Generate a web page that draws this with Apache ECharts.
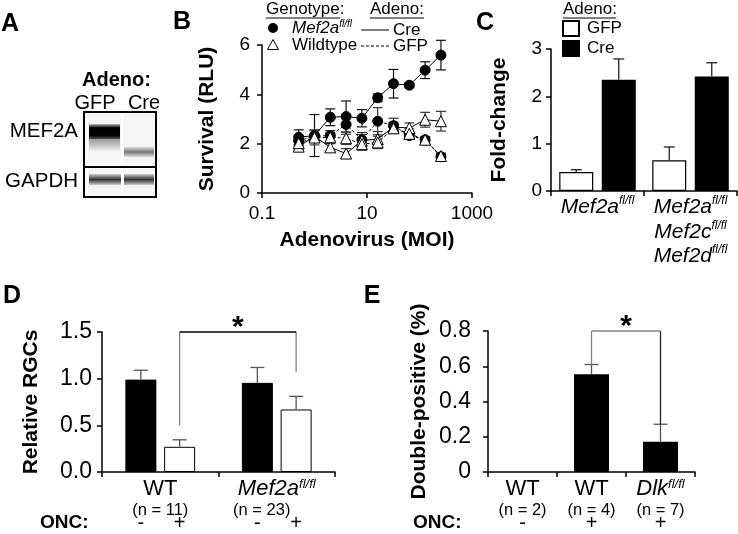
<!DOCTYPE html>
<html><head><meta charset="utf-8">
<script src="https://cdn.jsdelivr.net/npm/echarts@6/dist/echarts.min.js"></script>
<style>html,body{margin:0;padding:0;background:#fff}#c{width:738px;height:534px}</style>
</head><body><div id="c"></div>
<script>
// ---------- Panel B : survival vs adenovirus MOI ----------
const moi = [0.5, 1, 2, 4, 8, 16, 32, 64, 128, 256];
const mef2aCre    = [2.26, 2.33, 3.07, 3.10, 3.03, 3.86, 4.43, 4.37, 4.98, 5.59];
const mef2aCreErr = [0.30, 0.85, 0.34, 0.63, 0.35, 0.16, 0.58, 0.10, 0.34, 0.60];
const mef2aGfp    = [2.12, 2.30, 2.33, 2.78, 2.15, 2.91, 2.73, 2.33, 2.16, 1.47];
const mef2aGfpErr = [0.20, 0.25, 0.20, 0.40, 0.30, 0.55, 0.30, 0.15, 0.12, 0.12];
const wtCre       = [1.88, 2.30, 1.85, 1.60, 2.12, 2.19, 2.67, 2.64, 2.97, 2.91];
const wtCreErr    = [0.20, 0.25, 0.15, 0.20, 0.25, 0.30, 0.20, 0.20, 0.30, 0.40];
const wtGfp       = [2.02, 2.25, 2.26, 2.22, 1.98, 2.05, 2.62, 2.40, 2.16, 1.50];
const wtGfpErr    = [0.25, 0.30, 0.20, 0.25, 0.25, 0.25, 0.20, 0.20, 0.12, 0.12];
const bTickExponents = [-1, 3];   // axis from 10^-1 to 10^3

// ---------- Panel C : fold-change ----------
const cCategories = ['Mef2a^fl/fl', 'Mef2a^fl/fl\nMef2c^fl/fl\nMef2d^fl/fl'];
const cGfp    = [0.40, 0.65];
const cGfpErr = [0.05, 0.28];
const cCre    = [2.35, 2.42];
const cCreErr = [0.44, 0.29];

// ---------- Panel D : relative RGCs ----------
const dCategories = ['WT\n(n = 11)', 'Mef2a^fl/fl\n(n = 23)'];
const dSham    = [0.99, 0.955];
const dShamErr = [0.10, 0.165];
const dOnc     = [0.27, 0.67];
const dOncErr  = [0.075, 0.14];
const dBracketLevels = [0.5, 1.075, 1.5];   // left foot, right foot, top

// ---------- Panel E : double-positive ----------
const eCategories = ['WT\n(n = 2)', 'WT\n(n = 4)', 'Dlk^fl/fl\n(n = 7)'];
const eValues = [0, 0.554, 0.171];
const eErr    = [0, 0.056, 0.10];
const eOnc    = ['-', '+', '+'];
const eBracketLevels = [0.61, 0.27, 0.8];

const FONT = '"Liberation Sans", Arial, Helvetica, sans-serif';
const AX = {color: '#000', width: 1.5};

function toRich(str, mainKey, nKey) {
  return str.split('\n').map(function (line) {
    if (line.charAt(0) === '(') return '{' + (nKey || 'n') + '|' + line + '}';
    const p = line.split('^');
    return p.length > 1 ? '{i|' + p[0] + '}{s|' + p[1] + '}' : '{' + mainKey + '|' + line + '}';
  }).join('\n');
}

function yAxis(grid, min, max, interval, fs, margin, name, nameGap, fmt) {
  return {
    gridIndex: grid, type: 'value', min: min, max: max, interval: interval,
    axisLine: {show: true, onZero: false, lineStyle: AX},
    axisTick: {show: true, length: 5, inside: false, lineStyle: AX},
    axisLabel: {fontSize: fs, color: '#000', margin: margin, fontFamily: FONT, formatter: fmt},
    splitLine: {show: false},
    name: name, nameLocation: 'middle', nameGap: nameGap, nameRotate: 90, nameMoveOverlap: false,
    nameTextStyle: {fontSize: 21, fontWeight: 'bold', color: '#000', fontFamily: FONT}
  };
}

function catAxis(grid, data, rich, margin, shiftN) {
  return {
    gridIndex: grid, type: 'category', data: data,
    axisLine: {show: true, onZero: false, lineStyle: AX},
    axisTick: {show: true, length: 5, alignWithLabel: false, inside: false, lineStyle: AX},
    axisLabel: {interval: 0, margin: margin, color: '#000', fontFamily: FONT,
      formatter: function (v, idx) { return toRich(v, 'w', shiftN && idx === 1 ? 'm' : 'n'); }, rich: rich},
    splitLine: {show: false}
  };
}

function errLog(xs, ys, es, color) {
  return {
    type: 'custom', xAxisIndex: 0, yAxisIndex: 0, z: 1, silent: true,
    data: xs.map(function (x, i) { return [x, ys[i] - es[i], ys[i] + es[i]]; }),
    encode: {x: 0, y: [1, 2]},
    renderItem: function (params, api) {
      const lo = api.coord([api.value(0), api.value(1)]);
      const hi = api.coord([api.value(0), api.value(2)]);
      const w = 5, st = {stroke: color, lineWidth: 1.2};
      return {type: 'group', children: [
        {type: 'line', shape: {x1: lo[0], y1: lo[1], x2: hi[0], y2: hi[1]}, style: st},
        {type: 'line', shape: {x1: hi[0] - w, y1: hi[1], x2: hi[0] + w, y2: hi[1]}, style: st},
        {type: 'line', shape: {x1: lo[0] - w, y1: lo[1], x2: lo[0] + w, y2: lo[1]}, style: st}
      ]};
    }
  };
}

function errCat(axisIdx, vals, errs, offset, capW, color) {
  return {
    type: 'custom', xAxisIndex: axisIdx, yAxisIndex: axisIdx, z: 5, silent: true,
    data: vals.map(function (v, i) { return [i, v, v + errs[i]]; }),
    encode: {x: 0, y: [1, 2]},
    renderItem: function (params, api) {
      if (api.value(2) <= api.value(1)) return {type: 'group', children: []};
      const lo = api.coord([api.value(0), api.value(1)]);
      const hi = api.coord([api.value(0), api.value(2)]);
      const x = lo[0] + offset, st = {stroke: color, lineWidth: 1.3};
      return {type: 'group', children: [
        {type: 'line', shape: {x1: x, y1: lo[1], x2: x, y2: hi[1]}, style: st},
        {type: 'line', shape: {x1: x - capW / 2, y1: hi[1], x2: x + capW / 2, y2: hi[1]}, style: st}
      ]};
    }
  };
}

const C_BW = 34, C_GAP = 0.25;
const D_BW = 31, D_GAP = 0.25;
const E_BW = 35;

const richC = {
  i: {fontSize: 21, fontStyle: 'italic', lineHeight: 24.5, fontFamily: FONT, color: '#000'},
  s: {fontSize: 12, fontStyle: 'italic', lineHeight: 14, verticalAlign: 'top', fontFamily: FONT, color: '#000'},
  w: {fontSize: 21, lineHeight: 24.5, fontFamily: FONT, color: '#000'}
};
const richDE = {
  w: {fontSize: 22, lineHeight: 22, fontFamily: FONT, color: '#000'},
  i: {fontSize: 22, fontStyle: 'italic', lineHeight: 22, fontFamily: FONT, color: '#000'},
  s: {fontSize: 13, fontStyle: 'italic', lineHeight: 14, verticalAlign: 'top', fontFamily: FONT, color: '#000'},
  n: {fontSize: 16.5, lineHeight: 21, fontFamily: FONT, color: '#000'},
  m: {fontSize: 16.5, lineHeight: 21, fontFamily: FONT, color: '#000', padding: [0, 30, 0, 0]}
};

function lineSeries(name, ys, symbol, fill, dashed) {
  return {
    type: 'line', name: name, xAxisIndex: 0, yAxisIndex: 0, z: 3,
    data: moi.map(function (x, i) { return [x, ys[i]]; }),
    symbol: symbol, symbolSize: symbol === 'triangle' ? 11 : 10,
    itemStyle: {color: fill, borderColor: '#000', borderWidth: 1},
    lineStyle: {color: '#000', width: 1, type: dashed ? [3, 2] : 'solid'},
    showSymbol: true
  };
}

const onc = function (t) {
  return {show: true, position: 'bottom', distance: 41, formatter: t,
    fontSize: 20, color: '#000', fontFamily: FONT};
};

const option = {
  animation: false,
  textStyle: {fontFamily: FONT, color: '#000'},
  grid: [
    {left: 262, top: 45, width: 210, height: 148},
    {left: 551, top: 49, width: 186, height: 142},
    {left: 102, top: 332, width: 233, height: 140},
    {left: 488, top: 331, width: 207, height: 141}
  ].map(function (g) { g.containLabel = false; g.outerBoundsMode = 'none'; return g; }),
  legend: {
    data: ['GFP', 'Cre'], orient: 'vertical', left: 562, top: 20, padding: 0,
    icon: 'rect', itemWidth: 16, itemHeight: 15, itemGap: 3, selectedMode: false,
    textStyle: {fontSize: 17, color: '#000', fontFamily: FONT, padding: [0, 0, 0, 3]}
  },
  xAxis: [
    {gridIndex: 0, type: 'log', logBase: 10, min: Math.pow(10, bTickExponents[0]), max: Math.pow(10, bTickExponents[1]),
      axisLine: {show: true, onZero: false, lineStyle: AX}, axisTick: {show: false}, axisLabel: {show: false}, splitLine: {show: false}},
    catAxis(1, cCategories, richC, 4, false),
    catAxis(2, dCategories, richDE, 6, true),
    catAxis(3, eCategories, richDE, 6, false),
    {gridIndex: 0, type: 'value', position: 'bottom', min: bTickExponents[0], max: bTickExponents[1], interval: 2,
      axisLine: {show: false, onZero: false}, axisTick: {show: true, length: 5, lineStyle: AX},
      axisLabel: {fontSize: 19, color: '#000', margin: 11, fontFamily: FONT,
        formatter: function (v) { return String(+Math.pow(10, v).toPrecision(3)); }},
      splitLine: {show: false},
      name: 'Adenovirus (MOI)', nameLocation: 'middle', nameGap: 37, nameMoveOverlap: false,
      nameTextStyle: {fontSize: 21, fontWeight: 'bold', color: '#000', fontFamily: FONT}}
  ],
  yAxis: [
    yAxis(0, 0, 6, 2, 19, 12, 'Survival (RLU)', 44, function (v) { return String(v); }),
    yAxis(1, 0, 3, 1, 19, 9, 'Fold-change', 41, function (v) { return String(v); }),
    yAxis(2, 0, 1.5, 0.5, 23, 10, 'Relative RGCs', 60, function (v) { return v.toFixed(1); }),
    yAxis(3, 0, 0.8, 0.2, 23, 17, 'Double-positive (%)', 58, function (v) { return v === 0 ? '0' : v.toFixed(1); })
  ],
  series: [
    lineSeries('Mef2a Cre', mef2aCre, 'circle', '#000', false),
    lineSeries('Mef2a GFP', mef2aGfp, 'circle', '#000', true),
    lineSeries('WT Cre', wtCre, 'triangle', '#fff', false),
    lineSeries('WT GFP', wtGfp, 'triangle', '#fff', true),
    errLog(moi, mef2aCre, mef2aCreErr, '#111'),
    errLog(moi, mef2aGfp, mef2aGfpErr, '#333'),
    errLog(moi, wtCre, wtCreErr, '#333'),
    errLog(moi, wtGfp, wtGfpErr, '#444'),
    {type: 'bar', name: 'GFP', xAxisIndex: 1, yAxisIndex: 1, data: cGfp, barWidth: C_BW, barGap: (C_GAP * 100) + '%',
      itemStyle: {color: '#fff', borderColor: '#000', borderWidth: 1.2}},
    {type: 'bar', name: 'Cre', xAxisIndex: 1, yAxisIndex: 1, data: cCre, barWidth: C_BW,
      itemStyle: {color: '#000', borderColor: '#000', borderWidth: 1.2}},
    errCat(1, cGfp, cGfpErr, -(C_BW * (1 + C_GAP)) / 2, 11, '#222'),
    errCat(1, cCre, cCreErr, (C_BW * (1 + C_GAP)) / 2, 11, '#222'),
    {type: 'bar', name: 'Sham', xAxisIndex: 2, yAxisIndex: 2, data: dSham, barWidth: D_BW, barGap: (D_GAP * 100) + '%',
      itemStyle: {color: '#000', borderColor: '#000', borderWidth: 1}, label: onc('-')},
    {type: 'bar', name: 'ONC', xAxisIndex: 2, yAxisIndex: 2, data: dOnc, barWidth: D_BW,
      itemStyle: {color: '#fff', borderColor: '#000', borderWidth: 1}, label: onc('+')},
    errCat(2, dSham, dShamErr, -(D_BW * (1 + D_GAP)) / 2, 14, '#555'),
    errCat(2, dOnc, dOncErr, (D_BW * (1 + D_GAP)) / 2, 14, '#555'),
    {type: 'bar', name: 'E', xAxisIndex: 3, yAxisIndex: 3, data: eValues, barWidth: E_BW,
      itemStyle: {color: '#000'},
      label: {show: true, position: 'bottom', distance: 41, fontSize: 20, color: '#000', fontFamily: FONT,
        formatter: function (p) { return eOnc[p.dataIndex]; }}},
    errCat(3, eValues, eErr, 0, 14, '#555')
  ]
};

const chart = echarts.init(document.getElementById('c'), null, {renderer: 'canvas'});
chart.setOption(option);

// ---------- annotations (figure furniture) ----------
function T(text, x, y, size, opts) {
  opts = opts || {};
  return {type: 'text', x: x, y: y, silent: true, z: 10, style: {
    text: text, fill: '#000', fontSize: size, fontFamily: FONT,
    fontWeight: opts.bold ? 'bold' : 'normal', fontStyle: opts.italic ? 'italic' : 'normal',
    textAlign: opts.align || 'left', textVerticalAlign: 'middle', rich: opts.rich}};
}
function L(x1, y1, x2, y2, color, w, dash) {
  return {type: 'line', silent: true, z: 10, shape: {x1: x1, y1: y1, x2: x2, y2: y2},
    style: {stroke: color || '#000', lineWidth: w || 1, lineDash: dash || null}};
}
function grad(stops) {
  return {type: 'linear', x: 0, y: 0, x2: 0, y2: 1, colorStops: stops};
}
function barCenter(si, di) {
  const l = chart.getModel().getSeriesByIndex(si).getData().getItemLayout(di);
  return l.x + l.width / 2;
}
function yPix(axis, v) { return chart.convertToPixel({yAxisIndex: axis}, v); }

const g = [];
// panel letters
g.push(T('A', 10, 24, 25, {bold: true, align: 'center'}));
g.push(T('B', 182, 22, 25, {bold: true, align: 'center'}));
g.push(T('C', 485, 23, 25, {bold: true, align: 'center'}));
g.push(T('D', 12, 296, 25, {bold: true, align: 'center'}));
g.push(T('E', 372, 296, 25, {bold: true, align: 'center'}));

// panel A blot
g.push(T('Adeno:', 82, 80, 20, {bold: true}));
g.push(T('GFP', 95, 103, 20, {align: 'center'}));
g.push(T('Cre', 144, 103, 20, {align: 'center'}));
g.push(T('MEF2A', 78, 131, 20.5, {align: 'right'}));
g.push(T('GAPDH', 78, 181, 20.5, {align: 'right'}));
g.push({type: 'rect', z: 9, silent: true, shape: {x: 84, y: 112, width: 72, height: 85}, style: {fill: '#fff', stroke: '#000', lineWidth: 2}});
g.push({type: 'rect', z: 9, silent: true, shape: {x: 88, y: 114, width: 33, height: 51}, style: {fill: '#f5f5f5'}});
g.push({type: 'rect', z: 9, silent: true, shape: {x: 123, y: 114, width: 32, height: 51}, style: {fill: '#f5f5f5'}});
g.push({type: 'rect', z: 9, silent: true, shape: {x: 88, y: 169, width: 33, height: 26}, style: {fill: '#f5f5f5'}});
g.push({type: 'rect', z: 9, silent: true, shape: {x: 123, y: 169, width: 32, height: 26}, style: {fill: '#f5f5f5'}});
g.push({type: 'rect', z: 10, silent: true, shape: {x: 89, y: 124, width: 31, height: 15},
  style: {fill: grad([{offset: 0, color: '#bbb'}, {offset: 0.25, color: '#000'}, {offset: 0.75, color: '#000'}, {offset: 1, color: '#555'}])}});
g.push({type: 'rect', z: 10, silent: true, shape: {x: 89, y: 139, width: 31, height: 13},
  style: {fill: grad([{offset: 0, color: '#999'}, {offset: 1, color: '#f5f5f5'}])}});
g.push({type: 'rect', z: 10, silent: true, shape: {x: 124, y: 147, width: 30, height: 10},
  style: {fill: grad([{offset: 0, color: '#ddd'}, {offset: 0.5, color: '#777'}, {offset: 1, color: '#ddd'}])}});
g.push({type: 'rect', z: 10, silent: true, shape: {x: 89, y: 174, width: 32, height: 11},
  style: {fill: grad([{offset: 0, color: '#ccc'}, {offset: 0.5, color: '#333'}, {offset: 1, color: '#ccc'}])}});
g.push({type: 'rect', z: 10, silent: true, shape: {x: 124, y: 174, width: 30, height: 11},
  style: {fill: grad([{offset: 0, color: '#ccc'}, {offset: 0.5, color: '#333'}, {offset: 1, color: '#ccc'}])}});
g.push(L(84, 167, 156, 167, '#000', 2));

// panel B legend
g.push(T('Genotype:', 266, 9, 17));
g.push(L(266, 18, 340, 18, '#000', 1));
g.push({type: 'circle', z: 10, silent: true, shape: {cx: 273, cy: 28, r: 5}, style: {fill: '#000'}});
g.push(T('{i|Mef2a}{s|fl/fl}', 292, 28, 17, {rich: {
  i: {fontSize: 17, fontStyle: 'italic', lineHeight: 18, fontFamily: FONT},
  s: {fontSize: 10, fontStyle: 'italic', lineHeight: 11, verticalAlign: 'top', fontFamily: FONT}}}));
g.push({type: 'polygon', z: 10, silent: true, shape: {points: [[273, 39.5], [267.5, 49.5], [278.5, 49.5]]}, style: {fill: '#fff', stroke: '#000', lineWidth: 1}});
g.push(T('Wildtype', 292, 45, 17));
g.push(T('Adeno:', 370, 9, 17));
g.push(L(370, 18, 424, 18, '#000', 1));
g.push(L(361, 30, 389, 30, '#000', 1));
g.push(T('Cre', 393, 30, 17));
g.push(L(361, 46, 389, 46, '#000', 1, [3, 2]));
g.push(T('GFP', 393, 46, 17));

// panel C legend header
g.push(T('Adeno:', 563, 9, 17));
g.push(L(563, 18, 616, 18, '#000', 1));

// ONC rows
g.push(T('ONC:', 40, 523, 19, {bold: true}));
g.push(T('ONC:', 413, 523, 19, {bold: true}));

// significance brackets
(function () {
  const xl = barCenter(13, 0), xr = barCenter(13, 1);
  const yl = yPix(2, dBracketLevels[0]), yr = yPix(2, dBracketLevels[1]), yt = yPix(2, dBracketLevels[2]);
  g.push(L(xl, yl, xl, yt, '#808080', 1.3));
  g.push(L(xr, yr, xr, yt, '#808080', 1.3));
  g.push(L(xl, yt, xr, yt, '#000', 1.3));
  g.push(T('*', (xl + xr) / 2, yt - 4, 30, {bold: true, align: 'center'}));
})();
(function () {
  const xl = barCenter(16, 1), xr = barCenter(16, 2);
  const yl = yPix(3, eBracketLevels[0]), yr = yPix(3, eBracketLevels[1]), yt = yPix(3, eBracketLevels[2]);
  g.push(L(xl, yl, xl, yt, '#808080', 1.3));
  g.push(L(xr, yr, xr, yt, '#222', 1.3));
  g.push(L(xl, yt, xr, yt, '#808080', 1.3));
  g.push(T('*', (xl + xr) / 2, yt - 4, 30, {bold: true, align: 'center'}));
})();

chart.setOption({graphic: g});
</script></body></html>
